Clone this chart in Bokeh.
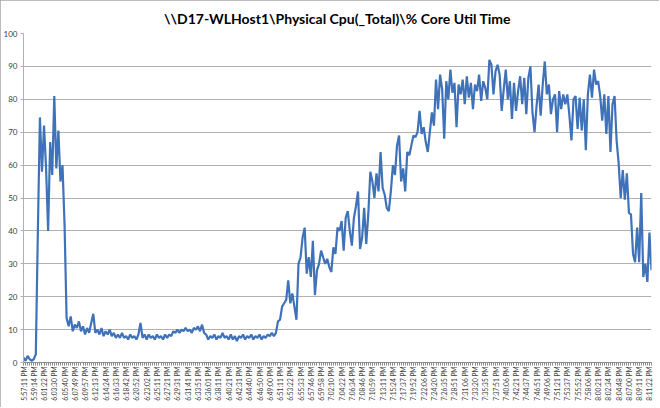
from bokeh.plotting import figure
from bokeh.models import Range1d, FixedTicker, ColumnDataSource
from bokeh.embed import file_html
from bokeh.resources import INLINE

title_text = "\\\\D17-WLHost1\\Physical Cpu(_Total)\\% Core Util Time"

time_labels = [
    "5:57:11 PM", "5:59:14 PM", "6:01:22 PM", "6:03:30 PM", "6:05:40 PM", "6:07:49 PM",
    "6:09:57 PM", "6:12:13 PM", "6:14:24 PM", "6:16:33 PM", "6:18:42 PM", "6:20:52 PM",
    "6:23:02 PM", "6:25:11 PM", "6:27:21 PM", "6:29:31 PM", "6:31:41 PM", "6:33:51 PM",
    "6:36:01 PM", "6:38:11 PM", "6:40:21 PM", "6:42:31 PM", "6:44:40 PM", "6:46:50 PM",
    "6:49:00 PM", "6:51:11 PM", "6:53:22 PM", "6:55:33 PM", "6:57:46 PM", "6:59:58 PM",
    "7:02:10 PM", "7:04:22 PM", "7:06:34 PM", "7:08:46 PM", "7:10:59 PM", "7:13:11 PM",
    "7:15:24 PM", "7:17:37 PM", "7:19:52 PM", "7:22:06 PM", "7:24:20 PM", "7:26:35 PM",
    "7:28:51 PM", "7:31:06 PM", "7:33:20 PM", "7:35:35 PM", "7:37:51 PM", "7:40:06 PM",
    "7:42:21 PM", "7:44:37 PM", "7:46:51 PM", "7:49:06 PM", "7:51:21 PM", "7:53:37 PM",
    "7:55:52 PM", "7:58:06 PM", "8:00:21 PM", "8:02:34 PM", "8:04:48 PM", "8:07:00 PM",
    "8:09:11 PM", "8:11:22 PM",
]

# samples between consecutive time labels
samples_per_label = 5

cpu_util = [
    1.5, 0.5, 2, 1, 0.5, 1, 2.5, 40, 74.5, 58,
    72, 59, 40, 67, 57, 81, 59, 70.5, 55, 60,
    42, 13.5, 11, 14, 9.5, 11.5, 10.5, 12.5, 9.5, 11,
    8.5, 10.5, 9, 12, 14.8, 9, 10, 8.5, 10.5, 8,
    9.5, 8.5, 10, 8, 9, 7.5, 8.5, 7.5, 9, 7.5,
    8, 7, 8.5, 7.5, 8, 7, 8.5, 12, 7.5, 8.5,
    7, 8.5, 7.5, 8, 7, 8.5, 7.5, 8, 7, 8.5,
    7.5, 8.5, 8, 9.5, 9, 10, 9, 10, 9.5, 10.5,
    9.5, 10, 9, 10.5, 10, 11, 9.5, 11.5, 9, 8.5,
    7, 8, 7.5, 8.5, 7, 8, 7.5, 9, 7.5, 8,
    7, 8.5, 7, 8, 6.5, 8, 7.5, 8.5, 7, 8,
    7.5, 8.5, 7, 8, 7.5, 8.5, 7, 8, 7.5, 8.5,
    8, 9, 8, 9, 12.5, 13, 17, 18, 19, 25,
    18, 21, 17, 13, 30, 32, 38, 41, 27, 32,
    26, 37, 20.5, 28, 30, 34, 32, 30, 31.5, 29,
    27.5, 35, 33, 41, 40, 43, 34, 44, 46, 40,
    35.5, 44, 47.5, 52, 34.5, 38, 47, 36, 45, 58,
    55, 50, 57.5, 52, 64, 53, 51, 47, 46, 52,
    60, 57, 66, 69, 55, 59, 52, 64, 63, 66,
    69, 68.5, 70, 76.5, 69.5, 71.5, 67, 64, 70, 76,
    72, 86, 77, 87.5, 83, 68, 85.5, 80, 89, 82,
    85, 71.5, 84.5, 81.5, 86, 78.5, 87, 80.5, 85, 77,
    84.5, 82.5, 87.5, 79.5, 85.5, 83.5, 80, 92, 90.5, 81.5,
    88.5, 90.5, 87.5, 76.5, 83, 89, 80, 85.5, 74, 85,
    76.5, 82.5, 87, 78.5, 86.5, 75.5, 86.5, 90, 76, 70,
    78, 84.5, 75, 84.5, 91.5, 81.5, 84.5, 75.5, 80, 81.5,
    70, 82.5, 77, 81.5, 78.5, 81.5, 75, 67.5, 80, 81,
    71, 80.5, 70.5, 80, 64.5, 81.5, 87.5, 80.5, 89, 84.5,
    85.5, 81, 73.5, 81.5, 69.5, 81, 64, 78.5, 81, 67.5,
    60.5, 50, 58.5, 49.5, 57.5, 45.5, 45, 33, 30.5, 41,
    30.5, 51.5, 26, 30, 24.5, 39.5, 28,
]

y_ticks = [0, 10, 20, 30, 40, 50, 60, 70, 80, 90, 100]

sample_index = list(range(len(cpu_util)))
label_pos = [k * samples_per_label for k in range(len(time_labels))]

source = ColumnDataSource(data=dict(x=sample_index, y=cpu_util))

p = figure(
    width=659, height=407,
    output_backend="svg", toolbar_location=None,
    x_range=Range1d(0, len(cpu_util) - 1),
    y_range=Range1d(0, 100),
    min_border_left=4, min_border_right=8, min_border_top=0, min_border_bottom=45,
    styles={"outline": "1px solid #a6a6a6", "outline-offset": "-1px"},
)
p.title.text = title_text
p.title.align = "center"
p.title.text_font = "Lato"
p.title.text_font_size = "14px"
p.title.text_font_style = "bold"
p.title.text_color = "#000000"
p.title.standoff = 14
p.title.offset = 0

p.outline_line_color = None
p.background_fill_color = "white"
p.border_fill_color = "white"

p.line("x", "y", source=source, line_color="#3f72b8", line_width=2.2)

# x axis
xa = p.xaxis[0]
xa.ticker = FixedTicker(ticks=label_pos, minor_ticks=sample_index)
xa.major_label_overrides = {pos: lab for pos, lab in zip(label_pos, time_labels)}
xa.major_label_orientation = 1.5707963
xa.major_label_text_font = "Lato"
xa.major_label_text_font_size = "6.6px"
xa.major_label_text_color = "#404040"
xa.major_label_standoff = 1
xa.axis_label_standoff = 0
xa.axis_line_color = "#8c8c8c"
xa.major_tick_line_color = "#8c8c8c"
xa.minor_tick_line_color = "#8c8c8c"
xa.major_tick_in = 0
xa.major_tick_out = 3
xa.minor_tick_in = 0
xa.minor_tick_out = 3

# y axis
ya = p.yaxis[0]
ya.ticker = FixedTicker(ticks=y_ticks)
ya.major_label_text_font = "Lato"
ya.major_label_text_font_size = "8px"
ya.major_label_text_color = "#404040"
ya.major_label_standoff = 3
ya.axis_line_color = "#b0b0b0"
ya.major_tick_line_color = "#b0b0b0"
ya.major_tick_in = 0
ya.major_tick_out = 3
ya.minor_tick_line_color = None

p.xgrid.grid_line_color = None
p.ygrid.grid_line_color = "#b0b0b0"
p.ygrid.grid_line_width = 1

open("out.html", "w").write(file_html(p, INLINE))
